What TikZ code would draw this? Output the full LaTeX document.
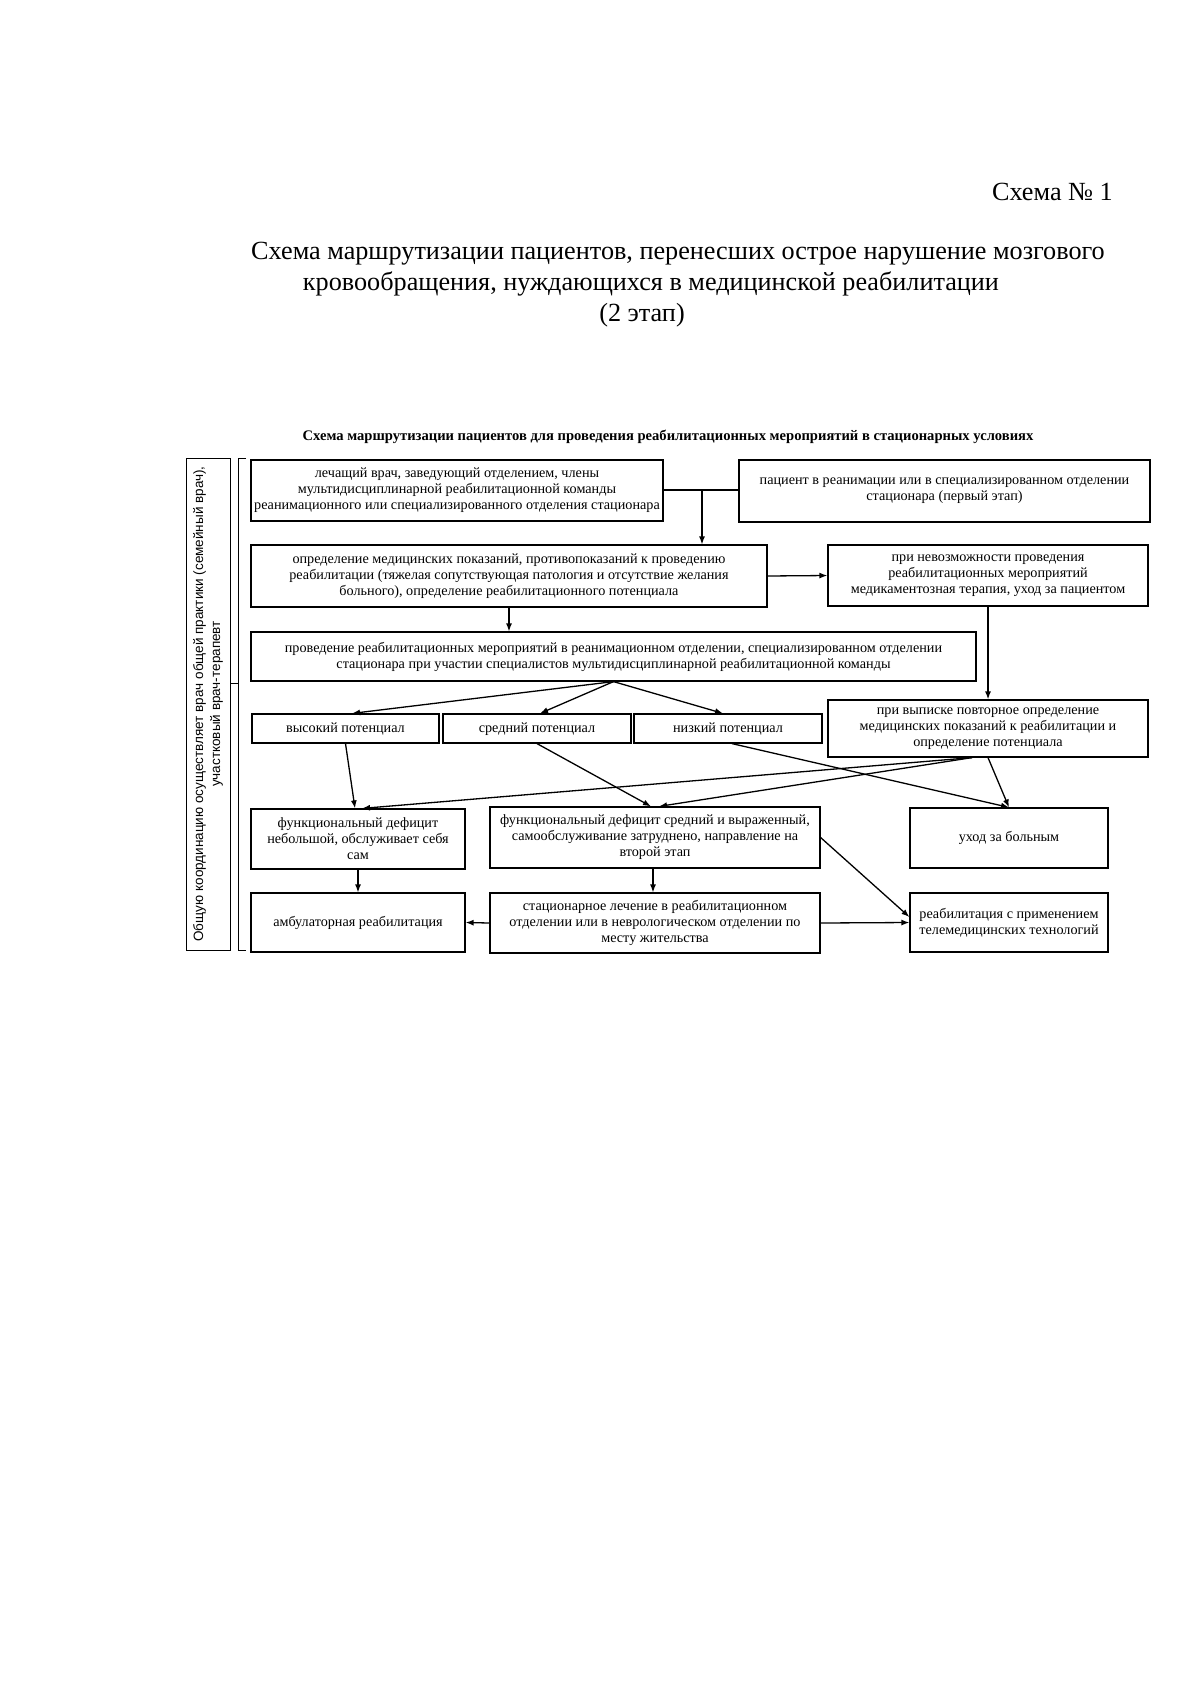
\documentclass[tikz,border=0pt]{standalone}
\usepackage{fontspec}
\setmainfont{Liberation Serif}
\newfontfamily\sansf{Liberation Sans}
\usetikzlibrary{arrows.meta}
\begin{document}
\begin{tikzpicture}[x=1pt,y=-1pt,
  box/.style={draw, line width=1.2pt, align=center, inner sep=0pt,
    font=\fontsize{14.2}{16}\selectfont},
  one/.style={text height=10pt, text depth=3pt},
  arr/.style={line width=1.3pt, -{Latex[length=8pt,width=6pt]}},
  ln/.style={line width=1.3pt},
  ttl/.style={font=\fontsize{26.2}{32}\selectfont, inner sep=0pt}]
\useasboundingbox[fill=white] (0,0) rectangle (1200,1697);

% titles
\node[ttl, anchor=east] (schno) at (1113,192) {Схема № 1};
\node[ttl] (t1) at (678,254) {Схема маршрутизации пациентов, перенесших острое нарушение мозгового};
\node[ttl] (t2) at (651,284) {кровообращения, нуждающихся в медицинской реабилитации};
\node[ttl] (t3) at (642,315) {(2 этап)};
\node[font=\bfseries\fontsize{14.6}{17}\selectfont, inner sep=0pt] (head) at (668,437)
  {Схема маршрутизации пациентов для проведения реабилитационных мероприятий в стационарных условиях};

% left vertical box
\node[draw, line width=1pt, rotate=90, minimum width=492pt, minimum height=44pt,
  inner sep=0pt, align=center, font=\sansf\fontsize{13.5}{17}\selectfont] (lb) at (208,704)
  {Общую координацию осуществляет врач общей практики (семейный врач),\\участковый врач-терапевт};
\draw[line width=1pt] (246,458) -- (238,458) -- (238,950) -- (246,950);
\draw[line width=1pt] (238,683) -- (231,683);

% boxes
\node[box, minimum width=412pt, minimum height=61pt] (b1) at (457,490.5)
  {лечащий врач, заведующий отделением, члены\\мультидисциплинарной реабилитационной команды\\реанимационного или специализированного отделения стационара};
\node[box, minimum width=411pt, minimum height=62pt] (b2) at (944.5,491)
  {пациент в реанимации или в специализированном отделении\\стационара (первый этап)};
\node[box, minimum width=516pt, minimum height=62pt] (b3) at (509,576)
  {определение медицинских показаний, противопоказаний к проведению\\реабилитации (тяжелая сопутствующая патология и отсутствие желания\\больного), определение реабилитационного потенциала};
\node[box, minimum width=320pt, minimum height=61pt] (b4) at (988,575.5)
  {при невозможности проведения\\реабилитационных мероприятий\\медикаментозная терапия, уход за пациентом};
\node[box, minimum width=725pt, minimum height=49pt] (b6) at (613.5,656.5)
  {проведение реабилитационных мероприятий в реанимационном отделении, специализированном отделении\\стационара при участии специалистов мультидисциплинарной реабилитационной команды};
\node[box, minimum width=320pt, minimum height=57pt] (b5) at (988,728.5)
  {при выписке повторное определение\\медицинских показаний к реабилитации и\\определение потенциала};
\node[box, one, minimum width=187pt, minimum height=29pt] (hi) at (345.5,728.5) {высокий потенциал};
\node[box, one, minimum width=188pt, minimum height=29pt] (mid) at (537,728.5) {средний потенциал};
\node[box, one, minimum width=188pt, minimum height=29pt] (low) at (728,728.5) {низкий потенциал};

\node[box, minimum width=214pt, minimum height=60pt] (d1) at (358,839)
  {функциональный дефицит\\небольшой, обслуживает себя\\сам};
\node[box, minimum width=330pt, minimum height=61pt] (d2) at (655,837.5)
  {функциональный дефицит средний и выраженный,\\самообслуживание затруднено, направление на\\второй этап};
\node[box, one, minimum width=198pt, minimum height=60pt] (uh) at (1009,838) {уход за больным};
\node[box, one, minimum width=214pt, minimum height=59pt] (amb) at (358,922.5) {амбулаторная реабилитация};
\node[box, minimum width=330pt, minimum height=60pt] (st) at (655,923)
  {стационарное лечение в реабилитационном\\отделении или в неврологическом отделении по\\месту жительства};
\node[box, minimum width=198pt, minimum height=59pt] (tele) at (1009,922.5)
  {реабилитация с применением\\телемедицинских технологий};

% connectors
\coordinate (j) at (702,490);
\draw[ln] (b1.east |- j) -- (b2.west |- j);
\draw[arr] (j) -- (j |- b3.north);
\draw[arr] (b3.east) -- (b4.west);
\draw[arr] (b3.south) -- (b3.south |- b6.north);
\draw[arr] (b4.south) -- (b5.north);
\draw[arr] (b6.south) -- ([xshift=6.5pt]hi.north);
\draw[arr] (b6.south) -- ([xshift=3pt]mid.north);
\draw[arr] (b6.south) -- ([xshift=-5pt]low.north);
\draw[arr] (hi.south) -- ([xshift=-3pt]d1.north);
\draw[arr] ([xshift=-16pt]b5.south) -- ([xshift=4pt]d1.north);
\draw[arr] (mid.south) -- ([xshift=-4pt]d2.north);
\draw[arr] ([xshift=-16pt]b5.south) -- ([xshift=4pt]d2.north);
\draw[arr] ([xshift=4pt]low.south) -- (uh.north);
\draw[arr] (b5.south) -- (uh.north);
\draw[arr] (d1.south) -- (amb.north);
\draw[arr] ([xshift=-2pt]d2.south) -- ([xshift=-2pt]st.north);
\draw[arr] (st.west) -- (amb.east);
\draw[arr] (st.east) -- (tele.west);
\draw[arr] (d2.east) -- ([yshift=5.5pt]tele.west);
\end{tikzpicture}
\end{document}
